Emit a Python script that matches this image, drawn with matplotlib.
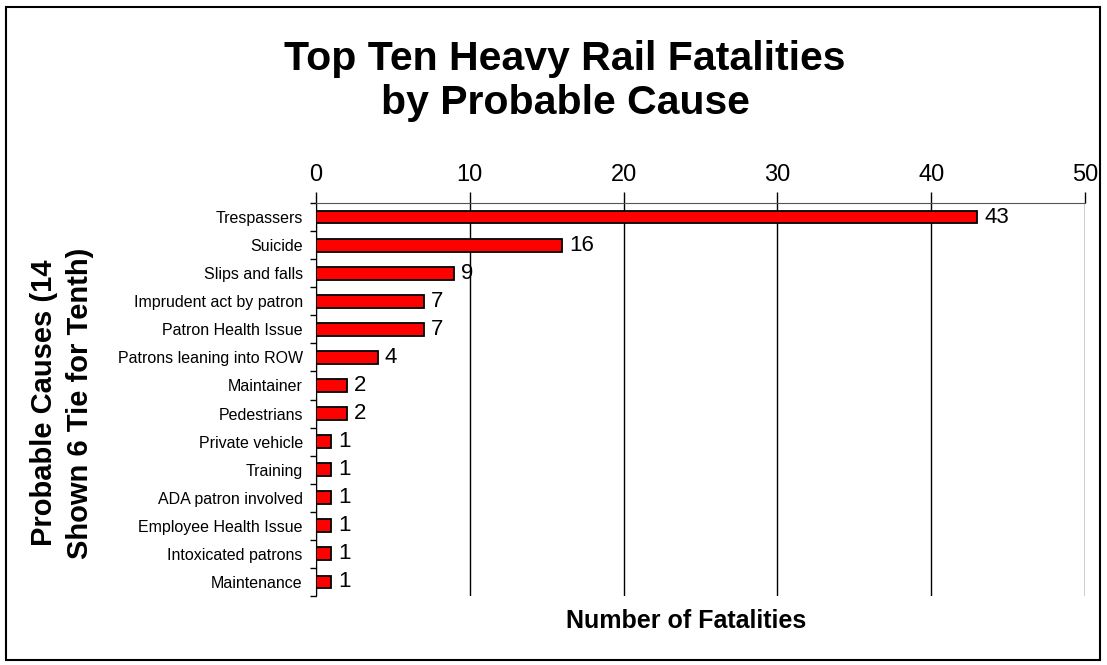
import matplotlib
matplotlib.use('Agg')
import matplotlib.pyplot as plt
from matplotlib.patches import Rectangle
import numpy as np

plt.rcParams['font.family'] = ['Liberation Sans', 'DejaVu Sans']

causes = ['Trespassers', 'Suicide', 'Slips and falls', 'Imprudent act by patron',
          'Patron Health Issue', 'Patrons leaning into ROW', 'Maintainer',
          'Pedestrians', 'Private vehicle', 'Training', 'ADA patron involved',
          'Employee Health Issue', 'Intoxicated patrons', 'Maintenance']
fatalities = [43, 16, 9, 7, 7, 4, 2, 2, 1, 1, 1, 1, 1, 1]
xticks = [0, 10, 20, 30, 40, 50]

fig = plt.figure(figsize=(11.07, 6.65), dpi=100)
fig.patches.append(Rectangle((6 / 1107, 5 / 665), 1094 / 1107, 653 / 665,
                             transform=fig.transFigure, fill=False,
                             edgecolor='black', linewidth=1.5))

ax = fig.add_axes([316 / 1107, 69 / 665, 769 / 1107, 393 / 665])
y = np.arange(len(causes))
ax.barh(y, fatalities, height=0.46, color='#ff0000', edgecolor='black',
        linewidth=1.3, zorder=3)
for yi, v in zip(y, fatalities):
    ax.text(v + 0.45, yi, str(v), va='center', ha='left', fontsize=16)

ax.set_xlim(0, 50)
ax.set_ylim(len(causes) - 0.5, -0.5)
ax.xaxis.tick_top()
ax.set_xticks(xticks)
ax.set_xticklabels([str(t) for t in xticks], fontsize=17)
ax.tick_params(axis='x', which='major', length=8, width=1, pad=4, direction='out')
ax.grid(axis='x', color='black', linewidth=1, zorder=0)

ax.set_yticks(np.arange(len(causes) + 1) - 0.5)
ax.set_yticklabels([])
ax.set_yticks(y, minor=True)
ax.set_yticklabels(causes, minor=True, fontsize=11.5)
ax.tick_params(axis='y', which='major', length=4, width=1, direction='out')
ax.tick_params(axis='y', which='minor', length=0, pad=9.5)

ax.spines['right'].set_visible(False)
ax.spines['bottom'].set_visible(False)
ax.spines['top'].set_color('#555555')

fig.text(565 / 1107, 1 - 81 / 665, 'Top Ten Heavy Rail Fatalities\nby Probable Cause',
         ha='center', va='center', fontsize=29.5, fontweight='bold', linespacing=1.2)
fig.text(62 / 1107, 1 - 403 / 665, 'Probable Causes (14\nShown 6 Tie for Tenth)',
         ha='center', va='center', rotation=90, fontsize=21, fontweight='bold',
         linespacing=1.35)
fig.text(686 / 1107, 1 - 621 / 665, 'Number of Fatalities',
         ha='center', va='center', fontsize=18, fontweight='bold')

fig.savefig('out.png', dpi=100)
